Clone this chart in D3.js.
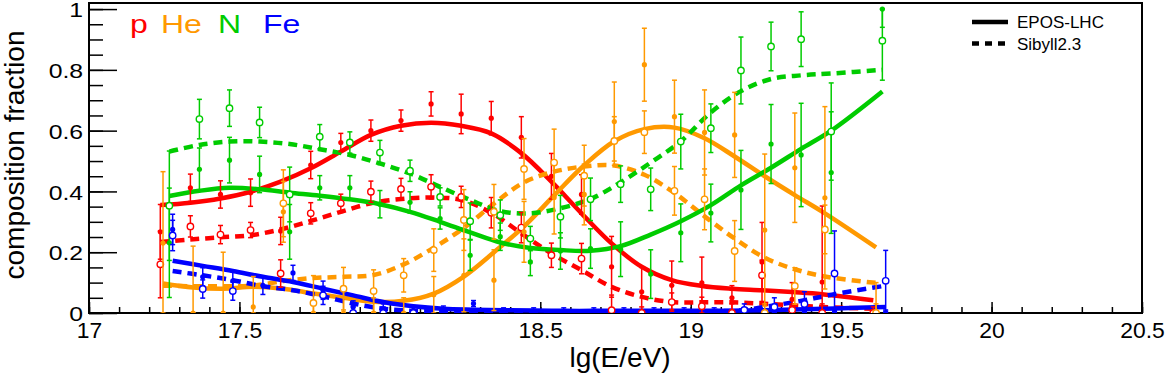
<!DOCTYPE html>
<html lang="en">
<head>
  <meta charset="UTF-8" />
  <title>Composition fractions</title>
  <script src="https://d3js.org/d3.v7.min.js"></script>
  <style>
    body { margin: 0; background: #fff; }
    svg text { font-family: "Liberation Sans", Arial, Helvetica, sans-serif; }
  </style>
</head>
<body>
  <div id="chart"></div>
  <script>
    // energy bins (lg(E/eV)), last bin is the integral one above 19.5
    const binCenters = [17.25, 17.35, 17.45, 17.55, 17.65, 17.75, 17.85, 17.95, 18.05, 18.15, 18.25, 18.35,
                        18.45, 18.55, 18.65, 18.75, 18.85, 18.95, 19.05, 19.15, 19.25, 19.35, 19.45, 19.62];

    const speciesNames = ["p", "He", "N", "Fe"];
    const speciesColors = ["#ff0000", "#ff9900", "#00cc00", "#0000ff"];
    const speciesShift = [-0.013, -0.004, 0.017, 0.028];

    // fitted fractions, EPOS-LHC (filled) and Sibyll2.3 (open)
    const pEpos      = [0.267, 0.412, 0.390, 0.396, 0.270, 0.487, 0.561, 0.600, 0.633, 0.688, 0.655, 0.641, 0.578, 0.450, 0.390, 0.152, 0.070, 0.091, 0.099, 0.050, 0.168, 0.045, 0.102, 0.0];
    const pEposErr   = [0.09, 0.045, 0.045, 0.045, 0.045, 0.045, 0.03, 0.035, 0.035, 0.04, 0.065, 0.055, 0.068, 0.075, 0.065, 0.1, 0.08, 0.08, 0.085, 0.04, 0.13, 0.055, 0.25, 0.02];
    const pSib       = [0.160, 0.285, 0.258, 0.273, 0.130, 0.328, 0.361, 0.399, 0.408, 0.415, 0.382, 0.330, 0.281, 0.190, 0.179, 0.009, 0.0, 0.036, 0.022, 0.0, 0.124, 0.010, 0.0, 0.0];
    const pSibErr    = [0.11, 0.035, 0.03, 0.025, 0.045, 0.035, 0.03, 0.035, 0.035, 0.04, 0.035, 0.05, 0.05, 0.04, 0.05, 0.05, 0.02, 0.03, 0.03, 0.03, 0.05, 0.02, 0.03, 0.01];

    const heEpos     = [0.23, 0.0, 0.0, 0.02, 0.333, 0.0, 0.0, 0.0, 0.0, 0.06, 0.124, 0.108, 0.267, 0.38, 0.39, 0.63, 0.817, 0.646, 0.594, 0.586, 0.273, 0.478, 0.379, 0.0];
    const heEposErr  = [0.235, 0.22, 0.2, 0.1, 0.1, 0.03, 0.08, 0.05, 0.05, 0.06, 0.12, 0.1, 0.1, 0.12, 0.1, 0.13, 0.12, 0.12, 0.14, 0.14, 0.25, 0.18, 0.3, 0.1];
    const heSib      = [null, null, null, null, 0.361, 0.033, 0.08, 0.072, 0.124, 0.207, 0.306, 0.333, 0.474, 0.495, 0.452, 0.566, 0.595, 0.402, 0.374, 0.204, 0.0, 0.089, 0.275, 0.0];
    const heSibErr   = [0, 0, 0, 0, 0.11, 0.09, 0.07, 0.07, 0.055, 0.07, 0.1, 0.09, 0.1, 0.11, 0.1, 0.08, 0.07, 0.08, 0.1, 0.1, 0.03, 0.06, 0.08, 0.03];

    const nEpos      = [0.231, 0.473, 0.503, 0.456, 0.267, 0.412, 0.412, 0.358, 0.364, 0.311, 0.190, 0.251, 0.168, 0.204, 0.212, 0.210, 0.128, 0.264, 0.329, 0.405, 0.556, 0.520, 0.462, 1.0];
    const nEposErr   = [0.18, 0.07, 0.075, 0.06, 0.09, 0.04, 0.04, 0.045, 0.035, 0.035, 0.05, 0.045, 0.045, 0.06, 0.065, 0.09, 0.08, 0.095, 0.095, 0.13, 0.13, 0.17, 0.2, 0.06];
    const nSib       = [0.353, 0.638, 0.674, 0.627, 0.390, 0.580, 0.561, 0.528, 0.468, 0.382, 0.302, 0.322, 0.245, 0.317, 0.374, 0.424, 0.407, 0.564, 0.608, 0.798, 0.877, 0.901, 0.597, 0.896];
    const nSibErr    = [0.18, 0.065, 0.06, 0.05, 0.09, 0.04, 0.035, 0.04, 0.035, 0.03, 0.06, 0.05, 0.04, 0.07, 0.07, 0.06, 0.07, 0.09, 0.08, 0.11, 0.08, 0.09, 0.16, 0.13];

    const feEpos     = [0.275, 0.119, 0.106, 0.091, 0.132, 0.075, 0.020, 0.010, 0.009, 0.008, 0.031, 0.005, 0.005, 0.005, 0.005, 0.005, 0.005, 0.005, 0.005, 0.005, 0.005, 0.005, 0.005, 0.0];
    const feEposErr  = [0.05, 0.03, 0.03, 0.03, 0.025, 0.03, 0.02, 0.02, 0.015, 0.015, 0.01, 0.012, 0.012, 0.012, 0.012, 0.012, 0.012, 0.012, 0.012, 0.012, 0.012, 0.012, 0.012, 0.01];
    const feSib      = [0.255, 0.079, 0.072, null, null, 0.058, 0.0, 0.0, 0.0, null, null, null, null, null, null, null, null, null, null, 0.01, 0.02, 0.03, 0.13, 0.106];
    const feSibErr   = [0.05, 0.03, 0.03, 0, 0, 0.03, 0.02, 0.02, 0.02, 0, 0, 0, 0, 0, 0, 0, 0, 0, 0, 0.02, 0.03, 0.04, 0.14, 0.1];

    // smoothed fraction curves evaluated at the bin centres
    const pEposCurve  = [0.355, 0.363, 0.377, 0.399, 0.432, 0.476, 0.531, 0.586, 0.616, 0.626, 0.616, 0.591, 0.526, 0.432, 0.328, 0.229, 0.152, 0.108, 0.089, 0.080, 0.075, 0.069, 0.062, 0.042];
    const pSibCurve   = [0.234, 0.242, 0.249, 0.256, 0.275, 0.303, 0.333, 0.361, 0.375, 0.380, 0.372, 0.330, 0.262, 0.196, 0.141, 0.086, 0.053, 0.036, 0.035, 0.035, 0.031, 0.025, 0.020, 0.014];
    const heEposCurve = [0.097, 0.084, 0.080, 0.086, 0.080, 0.064, 0.050, 0.037, 0.040, 0.064, 0.120, 0.200, 0.285, 0.387, 0.486, 0.565, 0.605, 0.610, 0.575, 0.515, 0.450, 0.388, 0.328, 0.216];
    const heSibCurve  = [0.090, 0.088, 0.088, 0.090, 0.105, 0.115, 0.119, 0.125, 0.160, 0.215, 0.280, 0.360, 0.430, 0.465, 0.482, 0.485, 0.455, 0.395, 0.318, 0.245, 0.182, 0.144, 0.120, 0.099];
    const nEposCurve  = [0.385, 0.402, 0.412, 0.407, 0.396, 0.386, 0.374, 0.358, 0.333, 0.300, 0.265, 0.232, 0.214, 0.207, 0.205, 0.220, 0.258, 0.302, 0.355, 0.420, 0.478, 0.540, 0.600, 0.729];
    const nSibCurve   = [0.531, 0.553, 0.564, 0.564, 0.556, 0.539, 0.520, 0.492, 0.459, 0.415, 0.372, 0.335, 0.328, 0.345, 0.375, 0.430, 0.495, 0.565, 0.660, 0.730, 0.770, 0.782, 0.788, 0.800];
    const feEposCurve = [0.172, 0.155, 0.138, 0.119, 0.102, 0.080, 0.058, 0.036, 0.022, 0.014, 0.011, 0.009, 0.008, 0.007, 0.007, 0.007, 0.007, 0.007, 0.007, 0.008, 0.010, 0.012, 0.015, 0.020];
    const feSibCurve  = [0.138, 0.124, 0.108, 0.088, 0.075, 0.055, 0.031, 0.014, 0.007, 0.004, 0.004, 0.004, 0.004, 0.004, 0.004, 0.004, 0.004, 0.004, 0.006, 0.010, 0.025, 0.042, 0.062, 0.090];

    const xTicksMajor = [17, 17.5, 18, 18.5, 19, 19.5, 20, 20.5];
    const yTicksMajor = [0, 0.2, 0.4, 0.6, 0.8, 1];
    const legendModels = ["EPOS-LHC", "Sibyll2.3"];

    const W = 1165, H = 380;
    const margin = { top: 3, right: 23, bottom: 67, left: 89 };

    const x = d3.scaleLinear().domain([17, 20.5]).range([margin.left, W - margin.right]);
    const y = d3.scaleLinear().domain([0, 1.02]).range([H - margin.bottom, margin.top]);

    const svg = d3.select("#chart").append("svg")
      .attr("width", W)
      .attr("height", H);

    svg.append("defs").append("clipPath").attr("id", "plotClip")
      .append("rect")
      .attr("x", margin.left).attr("y", margin.top)
      .attr("width", W - margin.left - margin.right)
      .attr("height", H - margin.top - margin.bottom);

    // axes with inward ticks; the y tick labels are a bit wide in the original
    const fmt = d3.format("~g");
    const xMinor = d3.range(0, 36).map(i => 17 + i * 0.1);
    const yMinor = d3.range(0, 21).map(i => i * 0.05);

    svg.append("g")
      .attr("transform", `translate(0,${y(0)})`)
      .call(d3.axisBottom(x).tickValues(xMinor).tickSize(-6).tickSizeOuter(0).tickFormat(""))
      .call(g => g.select(".domain").remove());
    svg.append("g")
      .attr("transform", `translate(0,${y(0)})`)
      .call(d3.axisBottom(x).tickValues(xTicksMajor).tickSize(-11).tickSizeOuter(0).tickPadding(9).tickFormat(fmt))
      .call(g => g.select(".domain").remove())
      .call(g => g.selectAll("text")
        .attr("font-size", 22).attr("fill", "#000")
        .attr("transform", "scale(1.04,1)"));

    svg.append("g")
      .attr("transform", `translate(${x(17)},0)`)
      .call(d3.axisLeft(y).tickValues(yMinor).tickSize(-14).tickSizeOuter(0).tickFormat(""))
      .call(g => g.select(".domain").remove());
    svg.append("g")
      .attr("transform", `translate(${x(17)},0)`)
      .call(d3.axisLeft(y).tickValues(yTicksMajor).tickSize(-28).tickSizeOuter(0).tickPadding(5).tickFormat(fmt))
      .call(g => g.select(".domain").remove())
      .call(g => g.selectAll("text")
        .attr("font-size", 21).attr("fill", "#000")
        .attr("dy", "0.36em")
        .attr("transform", "scale(1.18,1)"));

    svg.selectAll(".tick line").attr("stroke", "#000").attr("stroke-width", 1.5);

    // frame
    svg.append("rect")
      .attr("x", margin.left).attr("y", margin.top)
      .attr("width", W - margin.left - margin.right)
      .attr("height", H - margin.top - margin.bottom)
      .attr("fill", "none").attr("stroke", "#000").attr("stroke-width", 2);

    // curves
    const curves = [
      [pEposCurve, pSibCurve], [heEposCurve, heSibCurve], [nEposCurve, nSibCurve], [feEposCurve, feSibCurve]
    ];
    const line = d3.line()
      .x(d => x(d[0]))
      .y(d => y(d[1]))
      .curve(d3.curveCatmullRom.alpha(0.5));

    const plot = svg.append("g").attr("clip-path", "url(#plotClip)");

    curves.forEach((pair, s) => {
      pair.forEach((vals, m) => {
        const pts = vals.map((v, i) => [binCenters[i] + speciesShift[s], v]);
        plot.append("path")
          .attr("d", line(pts))
          .attr("fill", "none")
          .attr("stroke", speciesColors[s])
          .attr("stroke-width", 4.5)
          .attr("stroke-dasharray", m === 1 ? "9,6" : null);
      });
    });

    // data points with error bars
    const points = [
      [[pEpos, pEposErr], [pSib, pSibErr]],
      [[heEpos, heEposErr], [heSib, heSibErr]],
      [[nEpos, nEposErr], [nSib, nSibErr]],
      [[feEpos, feEposErr], [feSib, feSibErr]]
    ];

    points.forEach((models, s) => {
      const col = speciesColors[s];
      models.forEach(([vals, errs], m) => {
        const g = plot.append("g");
        vals.forEach((v, i) => {
          if (v === null) return;
          const px = x(binCenters[i] + speciesShift[s]);
          const lo = Math.max(0, v - errs[i]);
          const hi = Math.min(1, v + errs[i]);
          if (errs[i] > 0) {
            g.append("line")
              .attr("x1", px).attr("x2", px)
              .attr("y1", y(lo)).attr("y2", y(hi))
              .attr("stroke", col).attr("stroke-width", 1.5);
            [lo, hi].forEach(e => {
              g.append("line")
                .attr("x1", px - 2.5).attr("x2", px + 2.5)
                .attr("y1", y(e)).attr("y2", y(e))
                .attr("stroke", col).attr("stroke-width", 1.5);
            });
          }
          if (m === 0) {
            g.append("circle")
              .attr("cx", px).attr("cy", y(v)).attr("r", 2.6)
              .attr("fill", col);
          } else {
            g.append("circle")
              .attr("cx", px).attr("cy", y(v)).attr("r", 3.2)
              .attr("fill", "#fff").attr("stroke", col).attr("stroke-width", 1.4);
          }
        });
      });
    });

    // species labels
    const labelX = [130, 161, 218, 263];
    speciesNames.forEach((n, i) => {
      svg.append("text")
        .attr("transform", `translate(${labelX[i]},33) scale(1.28,1)`)
        .attr("font-size", 25)
        .attr("fill", speciesColors[i])
        .text(n);
    });

    // model legend
    legendModels.forEach((name, i) => {
      const ly = 22 + i * 21.5;
      svg.append("line")
        .attr("x1", 972).attr("x2", 1008)
        .attr("y1", ly).attr("y2", ly)
        .attr("stroke", "#000").attr("stroke-width", 4.5)
        .attr("stroke-dasharray", i === 1 ? "7,6" : null);
      svg.append("text")
        .attr("x", 1017).attr("y", ly + 6)
        .attr("font-size", 17)
        .text(name);
    });

    // axis titles
    svg.append("text")
      .attr("x", 620).attr("y", 367)
      .attr("text-anchor", "middle")
      .attr("font-size", 28)
      .text("lg(E/eV)");

    svg.append("text")
      .attr("transform", `translate(24,155) rotate(-90)`)
      .attr("text-anchor", "middle")
      .attr("font-size", 28)
      .text("composition fraction");
  </script>
</body>
</html>
